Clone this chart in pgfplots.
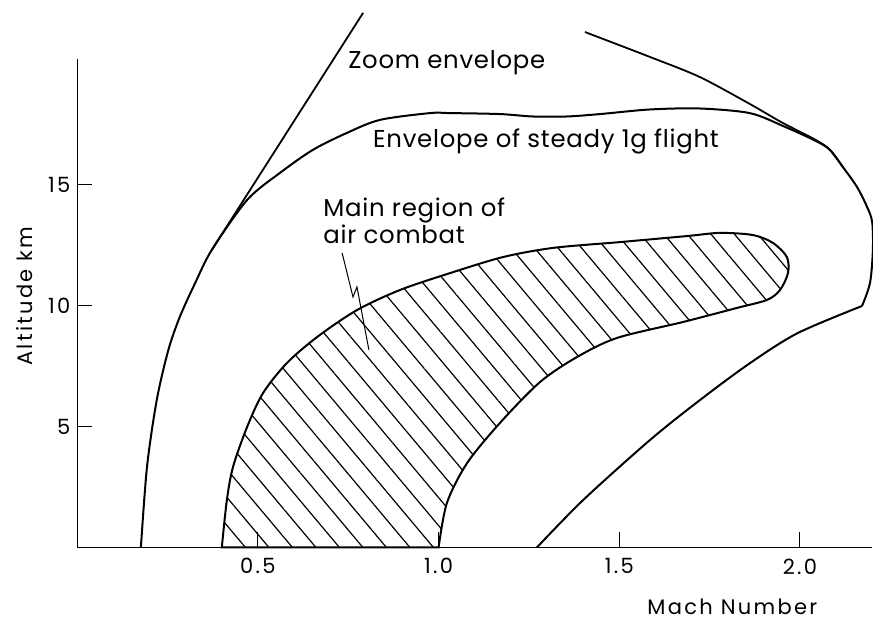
\documentclass[border=0pt]{standalone}
\usepackage{fontspec}
\setmainfont{Poppins}
\newfontfamily\axfont[LetterSpace=11]{Poppins}
\newfontfamily\anfont[LetterSpace=3]{Poppins}
\usepackage{pgfplots}
\pgfplotsset{compat=1.18}
\usetikzlibrary{patterns.meta}
\newcommand{\lblfont}{\axfont\fontsize{10.5}{13}\selectfont}
\newcommand{\annfont}{\anfont\fontsize{12.2}{15}\selectfont}
\begin{document}
\begin{tikzpicture}
\begin{axis}[
  anchor=origin, at={(0,0)},
  x=180.65pt, y=12.1pt,
  xmin=0, xmax=2.2, ymin=0, ymax=20.2,
  axis lines=left, axis line style={-, line width=0.65pt},
  clip=false,
  xtick={0.5,1.0,1.5,2.0}, xticklabels={0.5,1.0,1.5,2.0},
  ytick={5,10,15},
  tick align=inside, major tick length=7.5pt,
  tick style={line width=0.5pt, black},
  ticklabel style={font=\lblfont},
  /pgf/number format/assume math mode=true,
  xticklabel style={yshift=-2pt},
]
% hatched main region of air combat
\addplot[line width=1pt, pattern={Lines[angle=-50,distance=9pt,line width=0.6pt]}, smooth, tension=0.5] coordinates {
(0.400,0) (0.414,1.96) (0.431,3.33) (0.470,4.98) (0.514,6.38) (0.580,7.62)
(0.664,8.70) (0.774,9.81) (0.893,10.64) (1.032,11.34) (1.178,12.00) (1.317,12.38)
(1.502,12.62) (1.688,12.87) (1.779,13.00) (1.870,12.91) (1.926,12.58) (1.964,12.00)
(1.967,11.34) (1.945,10.64) (1.909,10.23) (1.826,9.90) (1.677,9.32) (1.494,8.66)
(1.383,7.87) (1.281,6.84) (1.170,5.15) (1.079,3.49) (1.023,1.84) (1.000,0)
} \closedcycle;
% envelope of steady 1g flight (upper part)
\addplot[line width=1pt, smooth, tension=0.5] coordinates {
(0.176,0) (0.193,3.34) (0.220,6.10) (0.252,8.16) (0.284,9.54) (0.326,10.92)
(0.372,12.29) (0.470,14.36) (0.561,15.48) (0.652,16.43) (0.746,17.13)
(0.838,17.67) (0.976,17.95) (1.032,17.95) (1.170,17.91) (1.261,17.81) (1.355,17.81)
(1.447,17.91) (1.585,18.10) (1.723,18.14) (1.861,17.95) (1.953,17.42) (2.044,16.80)
(2.083,16.43) (2.119,15.72) (2.158,14.90) (2.186,14.07) (2.200,13.45) (2.202,12.29)
(2.194,10.93) (2.172,9.98)
};
% envelope of steady 1g flight (lower right part)
\addplot[line width=1pt, smooth, tension=0.5] coordinates {
(2.172,9.98) (1.994,8.86) (1.862,7.62) (1.724,6.10) (1.585,4.44) (1.400,1.96) (1.272,0)
};
% zoom envelope, left branch
\addplot[line width=0.9pt] coordinates {
(0.372,12.29) (0.791,22.09)
};
% zoom envelope, right branch
\addplot[line width=0.9pt, smooth, tension=0.5] coordinates {
(1.405,21.30) (1.585,20.27) (1.723,19.44) (1.861,18.33) (1.953,17.54) (2.044,16.84)
(2.083,16.43) (2.119,15.72)
};
% leader line
\addplot[line width=0.5pt] coordinates {(0.733,12.17) (0.763,10.35) (0.774,10.77) (0.807,8.17)};
\node[anchor=base west, font=\annfont, inner sep=0pt] at (axis cs:0.749,19.81) {Zoom envelope};
\node[anchor=base west, font=\annfont, inner sep=0pt] at (axis cs:0.818,16.51) {Envelope of steady 1g flight};
\node[anchor=base west, font=\annfont, inner sep=0pt] at (axis cs:0.680,13.66) {Main region of};
\node[anchor=base west, font=\annfont, inner sep=0pt] at (axis cs:0.680,12.58) {air combat};
\node[font=\lblfont] at (axis cs:1.813,-2.45) {Mach Number};
\node[font=\lblfont, rotate=90] at (axis cs:-0.145,10.39) {Altitude km};
\end{axis}
\pgfresetboundingbox
\path[use as bounding box] (-38.65pt,-35.75pt) rectangle (397.85pt,273.75pt);
\end{tikzpicture}
\end{document}
